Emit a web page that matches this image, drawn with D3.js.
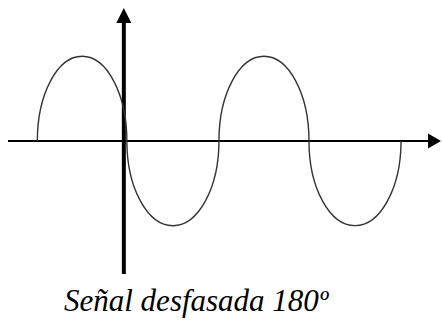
<!DOCTYPE html>
<meta charset="utf-8">
<script src="https://cdn.jsdelivr.net/npm/d3@7"></script>
<style>
body { margin: 0; background: #fff; }
.axis { stroke: #000; fill: none; }
.wave { fill: none; stroke: #333; stroke-width: 1.4px; }
.caption { font-family: "Liberation Serif", "Times New Roman", serif; font-style: italic; font-size: 31px; fill: #000; }
</style>
<body>
<script>

// zero crossings of the signal, in degrees (y axis sits at 0)
var crossings = [-171, 6, 188, 366, 548];
// sign of each half wave between crossings
var peaks = [1, -1, 1, -1];
// extent of the two axes
var xExtent = [-229, 627];
var yExtent = [-1.57, 1.57];
var caption = "Señal desfasada 180º";

var width = 442,
    height = 320;

var x = d3.scaleLinear().domain(xExtent).range([8, 441]);
var y = d3.scaleLinear().domain(yExtent).range([274, 8]);

var svg = d3.select("body").append("svg")
    .attr("width", width)
    .attr("height", height);

// horizontal axis + arrow
svg.append("line")
    .attr("class", "axis")
    .attr("x1", x(xExtent[0])).attr("x2", x(xExtent[1]) - 12)
    .attr("y1", y(0)).attr("y2", y(0))
    .style("stroke-width", "2px");
svg.append("path")
    .attr("d", "M" + x(xExtent[1]) + "," + y(0) +
        "L" + (x(xExtent[1]) - 13) + "," + (y(0) - 7.5) +
        "L" + (x(xExtent[1]) - 13) + "," + (y(0) + 7.5) + "Z")
    .style("fill", "#000");

// vertical axis + arrow
svg.append("line")
    .attr("class", "axis")
    .attr("x1", x(0)).attr("x2", x(0))
    .attr("y1", y(yExtent[0])).attr("y2", y(yExtent[1]) + 12)
    .style("stroke-width", "4px");
svg.append("path")
    .attr("d", "M" + x(0) + "," + y(yExtent[1]) +
        "L" + (x(0) - 7.5) + "," + (y(yExtent[1]) + 15) +
        "L" + (x(0) + 7.5) + "," + (y(yExtent[1]) + 15) + "Z")
    .style("fill", "#000");

// the signal: one half-ellipse per half wave
var halves = peaks.map(function(p, i) {
  return {from: crossings[i], to: crossings[i + 1], peak: p};
});

svg.append("g")
  .selectAll("path")
  .data(halves)
  .enter()
  .append("path")
    .attr("class", "wave")
    .attr("d", function(d) {
      var x0 = x(d.from), x1 = x(d.to),
          rx = (x1 - x0) / 2,
          ry = Math.abs(y(d.peak) - y(0));
      return "M" + x0 + "," + y(0) +
          "A" + rx + "," + ry + " 0 0," + (d.peak > 0 ? 1 : 0) + " " +
          x1 + "," + y(0);
    });

svg.append("text")
    .attr("class", "caption")
    .attr("x", 64)
    .attr("y", 311)
    .text(caption);

</script>
</body>
